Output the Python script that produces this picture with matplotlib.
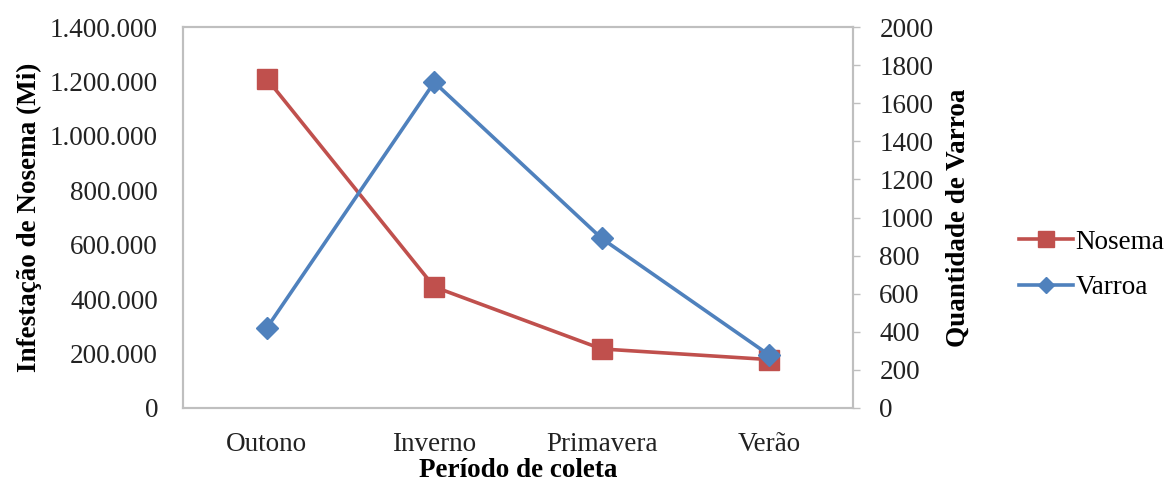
import matplotlib
matplotlib.use("Agg")
import matplotlib.pyplot as plt

plt.rcParams['font.family'] = ['Liberation Serif', 'DejaVu Serif']

periods = ["Outono", "Inverno", "Primavera", "Verão"]
nosema = [1210000, 445000, 217000, 178000]
varroa = [420, 1710, 890, 278]

left_ticks = [0, 200000, 400000, 600000, 800000, 1000000, 1200000, 1400000]
left_labels = ["0", "200.000", "400.000", "600.000", "800.000",
               "1.000.000", "1.200.000", "1.400.000"]
right_ticks = [0, 200, 400, 600, 800, 1000, 1200, 1400, 1600, 1800, 2000]

red = "#C0504D"
blue = "#4F81BD"
frame = "#BFBFBF"
ink = "#222222"

fig = plt.figure(figsize=(11.71, 4.86), dpi=100)
ax = fig.add_axes([0.1563, 0.1605, 0.5721, 0.7839])
ax2 = ax.twinx()

x = list(range(len(periods)))
ln1, = ax.plot(x, nosema, color=red, lw=2.6, marker='s', markersize=15,
               label="Nosema", zorder=3)
ln2, = ax2.plot(x, varroa, color=blue, lw=2.6, marker='D', markersize=11,
                label="Varroa", zorder=3)

ax.set_xlim(-0.5, len(periods) - 0.5)
ax.set_ylim(0, 1400000)
ax2.set_ylim(0, 2000)

ax.set_xticks(x)
ax.set_xticklabels(periods, fontsize=19.5)
ax.set_yticks(left_ticks)
ax.set_yticklabels(left_labels, fontsize=19.5)
ax2.set_yticks(right_ticks)
ax2.set_yticklabels([str(v) for v in right_ticks], fontsize=19.5)

ax.tick_params(axis='x', length=0, pad=17, colors=ink)
ax.tick_params(axis='y', length=0, pad=18, colors=ink)
ax2.tick_params(axis='y', length=5, width=1, pad=14, colors=ink)
ax2.tick_params(axis='y', color=frame)

for a in (ax, ax2):
    for s in a.spines.values():
        s.set_color(frame)
        s.set_linewidth(1.5)

ax.set_xlabel("Período de coleta", fontsize=19.5, fontweight='bold', labelpad=1)
ax.set_ylabel("Infestação de Nosema (Mi)", fontsize=19.5, fontweight='bold', labelpad=6)
ax2.set_ylabel("Quantidade de Varroa", fontsize=19.5, fontweight='bold', labelpad=9)

fig.legend(handles=[ln1, ln2], loc='center left',
           bbox_to_anchor=(0.870, 0.455), frameon=False, fontsize=19.5,
           borderpad=0, borderaxespad=0,
           handlelength=2.0, handletextpad=0.1, labelspacing=0.75,
           markerscale=0.75)

fig.savefig("out.png", dpi=100)
